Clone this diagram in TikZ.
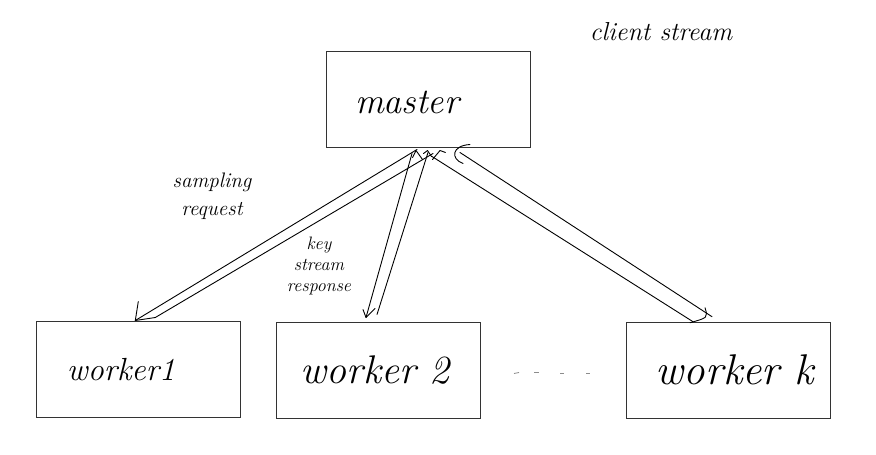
\documentclass[tikz,border=0pt]{standalone}
\usetikzlibrary{calc}
\begin{document}
\begin{tikzpicture}[x=1pt,y=-1pt,
  box/.style={draw=black!80, line width=1pt, minimum width=204pt, minimum height=96pt, inner sep=0pt},
  wire/.style={line width=0.9pt, black, line cap=round, line join=round},
  lbl/.style={inner sep=0pt, text=black},
  faint/.style={line width=0.8pt, black!45}]
\useasboundingbox (0,0) rectangle (876,455);
% boxes
\node[box] (master) at (428.5,99) {};
\node[box] (w1) at (138.3,369) {};
\node[box] (w2) at (378,370) {};
\node[box] (wk) at (728,370.2) {};
% labels
\node[lbl, anchor=base, font=\fontsize{36}{36}\selectfont\itshape] (tmaster) at (407,113) {master};
\node[lbl, anchor=base, font=\fontsize{32}{32}\selectfont\itshape] (tw1) at (121,380) {worker1};
\node[lbl, anchor=base, font=\fontsize{40}{40}\selectfont\itshape] (tw2) at (375,383) {worker 2};
\node[lbl, anchor=base, font=\fontsize{43}{43}\selectfont\itshape] (twk) at (735,384) {worker k};
\node[lbl, anchor=base, font=\fontsize{26}{26}\selectfont\itshape] (tclient) at (661,40) {client stream};
\node[lbl, align=center, font=\fontsize{21}{28}\selectfont\itshape] (tsamp) at (212,196) {sampling\\request};
\node[lbl, align=center, font=\fontsize{18}{21}\selectfont\itshape] (tkey) at (319,266) {key\\stream\\response};
% dots between worker 2 and worker k
\draw[faint] (514,373.5) -- (519,372.5);
\draw[faint] (534,372.5) -- (539,372.5);
\draw[faint] (560,373) -- (564,373);
\draw[faint] (586,373.5) -- (590,373.5);
% master -> worker1 (double shaft, head at worker1)
\draw[wire] ($(master.south)+(-11.5,2)$) -- ($(w1.north)+(-3,0)$);
\draw[wire] ($(master.south)+(4.5,6)$) -- ($(w1.north)+(17,-3)$);
\draw[wire] ($(w1.north)+(0,-19)$) -- ($(w1.north)+(-3,0)$) -- ($(w1.north)+(17,-3)$);
% master -> worker2 (double shaft, head at worker2)
\draw[wire] ($(master.south)+(-16.5,6)$) -- ($(w2.north)+(-12,-4)$);
\draw[wire] ($(w2.north)+(-15,-12)$) -- ($(w2.north)+(-12,-4)$) -- ($(w2.north)+(-3,-13)$);
\draw[wire] ($(master.south)+(-0.5,5)$) -- ($(w2.north)+(-1,-7)$);
% worker k <-> master (double shaft with curved caps)
\draw[wire] ($(master.south)+(31.5,5)$) -- ($(wk.north)+(-16,-5)$);
\draw[wire] ($(master.south)+(3.5,9)$) -- ($(wk.north)+(-35,0)$);
\draw[wire] ($(wk.north)+(-23,-14)$) .. controls ($(wk.north)+(-20,-4)$) .. ($(wk.north)+(-38,1)$);
\draw[wire] ($(master.south)+(41.5,-3)$) .. controls ($(master.south)+(23.5,-2)$) and ($(master.south)+(21.5,11)$) .. ($(master.south)+(34.5,16)$);
% small hooks under master
\draw[wire] ($(master.south)+(-16,10)$) -- ($(master.south)+(-12.5,3)$) -- ($(master.south)+(-6,12)$);
\draw[wire] ($(master.south)+(-5,6)$) -- ($(master.south)+(-1,3)$) -- ($(master.south)+(3,9)$);
\draw[wire] ($(master.south)+(4,12)$) -- ($(master.south)+(11.5,3)$) -- ($(master.south)+(17,5)$);
\end{tikzpicture}
\end{document}
